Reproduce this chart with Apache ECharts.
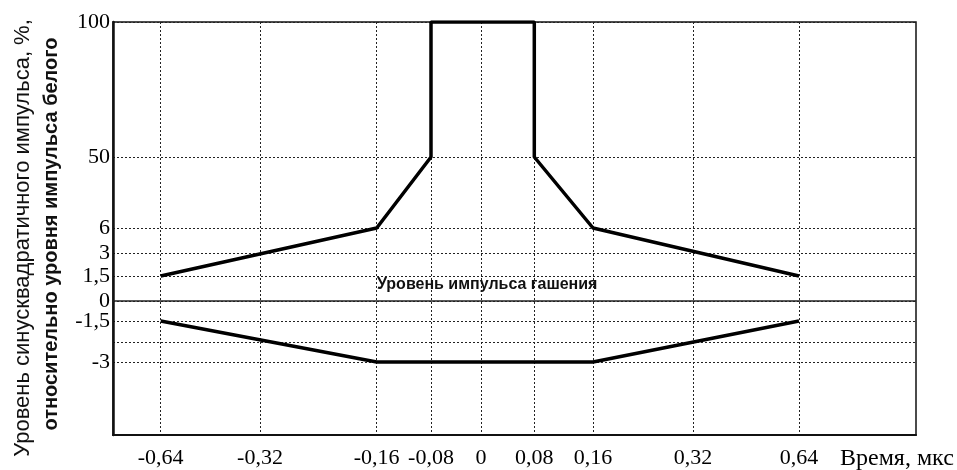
<!DOCTYPE html>
<html>
<head>
<meta charset="utf-8">
<script src="https://cdn.jsdelivr.net/npm/echarts@6/dist/echarts.min.js"></script>
<style>html,body{margin:0;padding:0;background:#fff}#c{width:957px;height:470px}</style>
</head>
<body>
<div id="c"></div>
<script>
// ---- data ----
const xTickValues = [-0.64, -0.32, -0.16, -0.08, 0, 0.08, 0.16, 0.32, 0.64];
const xTickLabels = ['-0,64', '-0,32', '-0,16', '-0,08', '0', '0,08', '0,16', '0,32', '0,64'];
const yTickValues = [-3, -2.25, -1.5, 0, 1.5, 3, 6, 50, 100];
const yTickLabels = ['-3', '', '-1,5', '0', '1,5', '3', '6', '50', '100'];
const upperTime  = [-0.64, -0.16, -0.08, -0.08, 0.08, 0.08, 0.16, 0.64];
const upperLevel = [1.5, 6, 50, 100, 100, 50, 6, 1.5];
const lowerTime  = [-0.64, -0.16, 0.16, 0.64];
const lowerLevel = [-1.5, -3, -3, -1.5];

// ---- non-linear axis scale (piecewise, as drawn in the original) ----
const xScaleMin = -0.78, xScaleMax = 0.9;
const xScaleVals = [xScaleMin].concat(xTickValues, [xScaleMax]);
const xScalePos  = [0, 47.7, 147, 263.7, 318, 368, 421.3, 480, 580, 686, 803];
const yScaleMin = -5, yScaleMax = 100;
const yScaleVals = [yScaleMin].concat(yTickValues);
const yScalePos  = [0, 73, 93, 114, 134, 159, 182, 207, 278, 413];

function piece(v, vals, pos) {
  for (let i = 0; i < vals.length - 1; i++) {
    if (v >= vals[i] && v <= vals[i + 1]) {
      const t = (v - vals[i]) / (vals[i + 1] - vals[i]);
      return pos[i] + t * (pos[i + 1] - pos[i]);
    }
  }
  return v < vals[0] ? pos[0] : pos[pos.length - 1];
}
const fx = v => piece(v, xScaleVals, xScalePos);
const fy = v => piece(v, yScaleVals, yScalePos);
function labelFor(p, vals, labels, f) {
  let best = 0, bd = Infinity;
  vals.forEach((v, i) => { const d = Math.abs(f(v) - p); if (d < bd) { bd = d; best = i; } });
  return labels[best];
}

const xTickPos = xTickValues.map(fx);
const yTickPos = yTickValues.map(fy);
const upperData = upperTime.map((t, i) => [fx(t), fy(upperLevel[i])]);
const lowerData = lowerTime.map((t, i) => [fx(t), fy(lowerLevel[i])]);

const serif = '"Liberation Serif", "DejaVu Serif", serif';
const sans = '"Liberation Sans", Arial, sans-serif';

const chart = echarts.init(document.getElementById('c'), null, {renderer: 'canvas'});
chart.setOption({
  animation: false,
  backgroundColor: '#fff',
  grid: {left: 113, right: 41, top: 22, bottom: 35, show: true, borderColor: '#111', borderWidth: 1.5},
  xAxis: {
    type: 'value', min: 0, max: fx(xScaleMax),
    axisLine: {show: true, lineStyle: {color: '#111', width: 2}},
    axisTick: {show: false, customValues: xTickPos},
    axisLabel: {customValues: xTickPos, color: '#000', fontFamily: serif, fontSize: 22, margin: 12,
      formatter: p => labelFor(p, xTickValues, xTickLabels, fx)},
    splitLine: {show: true, lineStyle: {color: '#222', type: [2, 2], width: 1}}
  },
  yAxis: {
    type: 'value', min: 0, max: fy(yScaleMax),
    axisLine: {show: true, lineStyle: {color: '#111', width: 2.5}},
    axisTick: {show: false, customValues: yTickPos},
    axisLabel: {customValues: yTickPos, color: '#000', fontFamily: serif, fontSize: 22, margin: 3,
      formatter: p => labelFor(p, yTickValues, yTickLabels, fy)},
    splitLine: {show: true, lineStyle: {color: '#222', type: [2, 2], width: 1}}
  },
  series: [
    {
      type: 'line', data: upperData, symbol: 'none',
      lineStyle: {color: '#000', width: 3.5}, z: 5,
      markLine: {
        silent: true, symbol: 'none', label: {show: false},
        lineStyle: {color: '#222', type: 'solid', width: 1.5},
        data: [{yAxis: fy(0)}]
      }
    },
    {
      type: 'line', data: lowerData, symbol: 'none',
      lineStyle: {color: '#000', width: 3.5}, z: 5
    }
  ],
  graphic: [
    {type: 'text', left: 377, top: 277, z: 10,
      style: {text: 'Уровень импульса гашения', font: 'bold 16px ' + sans, fill: '#111'}},
    {type: 'text', x: 840, y: 459, z: 10,
      style: {text: 'Время, мкс', font: '24px ' + serif, fill: '#000', textVerticalAlign: 'middle'}},
    {type: 'text', x: 23, y: 238, rotation: Math.PI / 2, z: 10,
      style: {text: 'Уровень синусквадратичного импульса, %,', font: '22px ' + sans, fill: '#111',
        textAlign: 'center', textVerticalAlign: 'middle'}},
    {type: 'text', x: 51, y: 234, rotation: Math.PI / 2, z: 10,
      style: {text: 'относительно уровня импульса белого', font: 'bold 20px ' + sans, fill: '#111',
        textAlign: 'center', textVerticalAlign: 'middle'}}
  ]
});
</script>
</body>
</html>
